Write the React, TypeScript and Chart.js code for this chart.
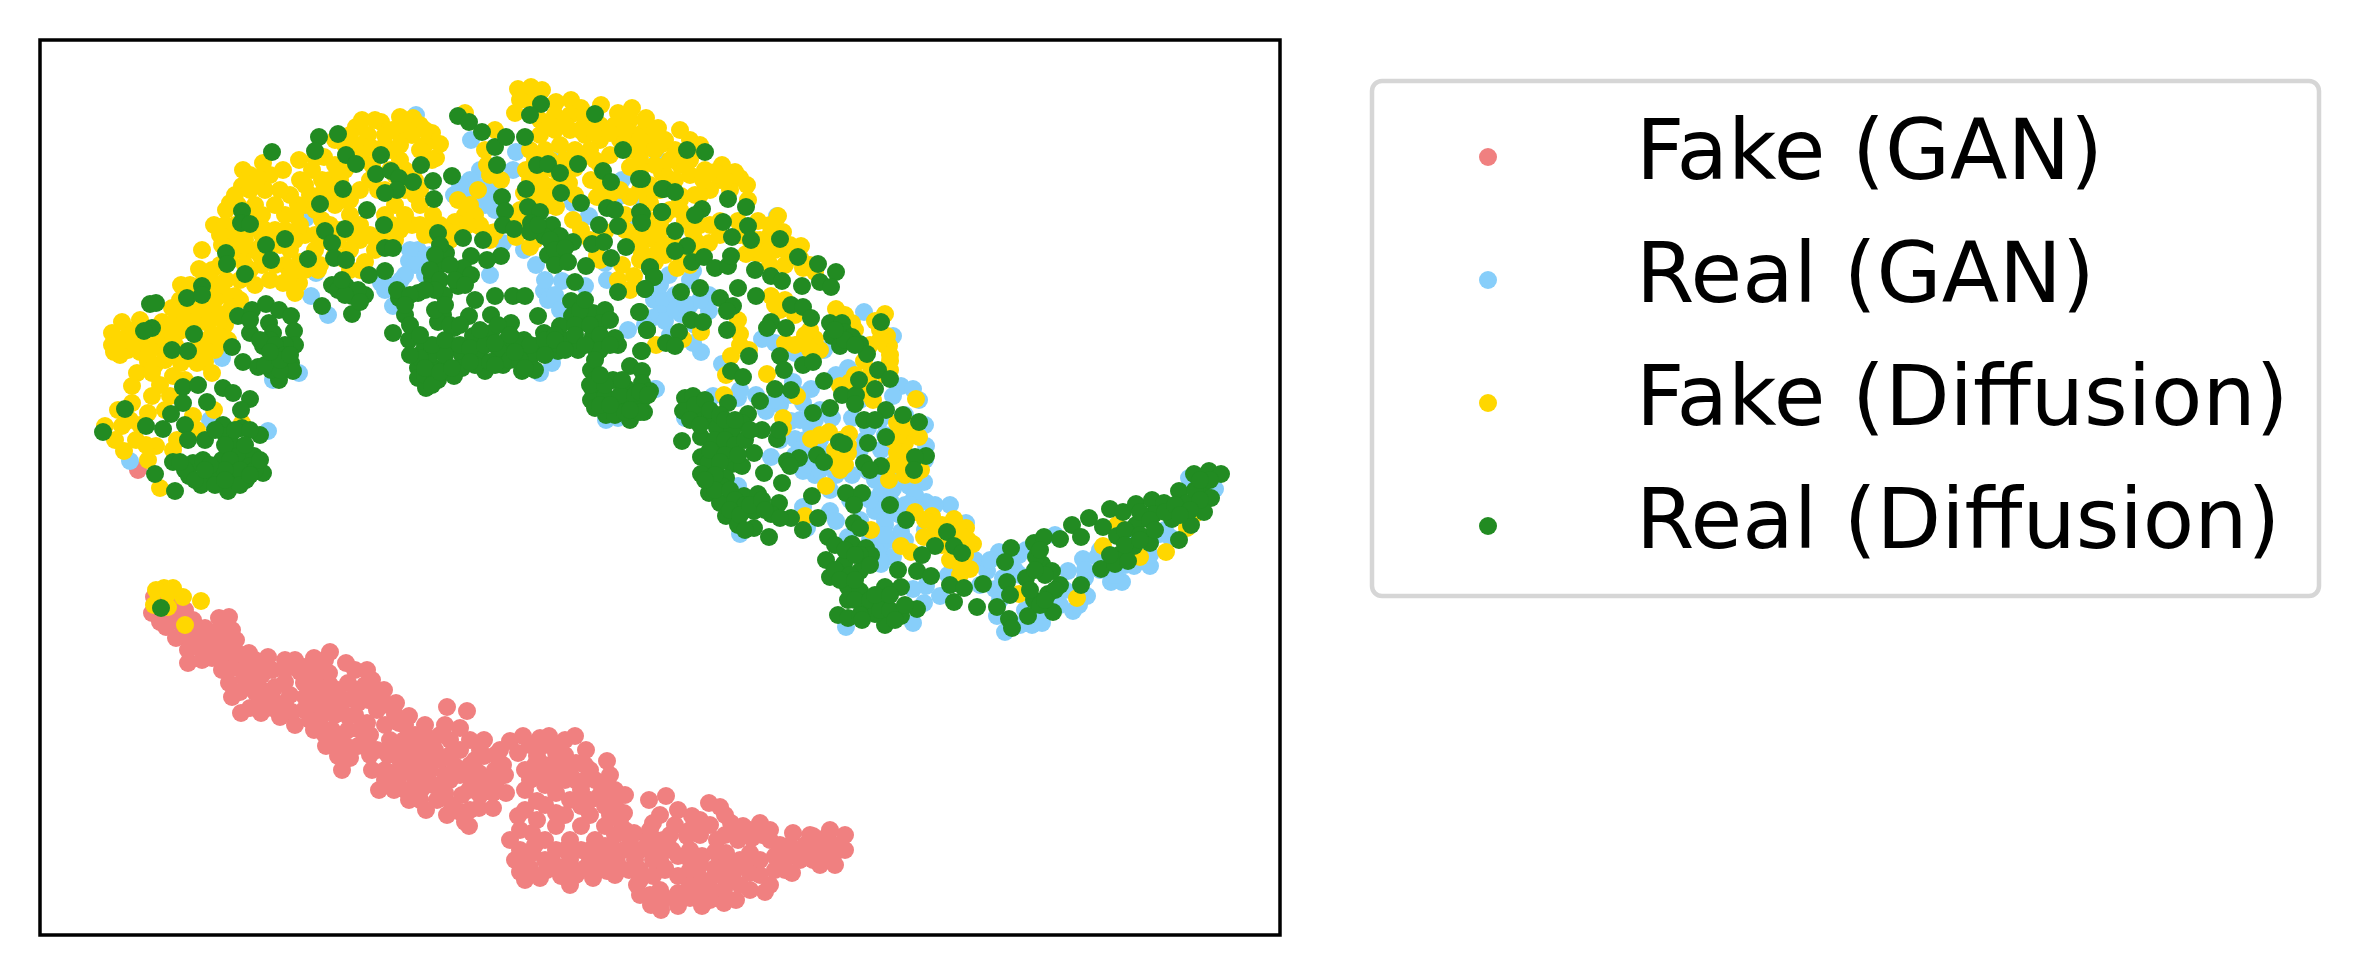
import React, { useEffect, useRef } from "react";
import { Chart, registerables } from "chart.js";

Chart.register(...registerables);

const seriesNames = ["Fake (GAN)", "Real (GAN)", "Fake (Diffusion)", "Real (Diffusion)"];
const seriesColors = ["#F08080", "#87CEFA", "#FFD700", "#228B22"];

const fakeGan: number[][] = [
[138,470],[154,597],[152,613],[166,627],[176,638],[188,663],[188,650],[193,620],[219,618],[229,617],[215,633],[232,630],[236,640],[202,650],[222,650],[202,660],[249,653],[268,657],[295,660],[314,658],[330,652],[346,663],[367,670],[372,680],[384,690],[396,703],[409,716],[399,723],[377,710],[358,703],[338,690],[348,683],[329,673],[304,667],[285,670],[265,667],[246,667],[222,670],[229,683],[251,683],[275,687],[304,683],[232,697],[241,713],[261,713],[280,717],[295,725],[261,700],[285,703],[304,710],[319,693],[324,713],[314,730],[326,746],[338,756],[342,770],[348,730],[358,746],[377,750],[348,716],[367,723],
[447,707],[467,711],[445,725],[460,728],[484,740],[404,740],[426,736],[411,753],[435,750],[460,750],[484,756],[503,765],[372,770],[379,790],[394,790],[409,800],[426,810],[447,815],[469,826],[392,773],[411,773],[430,770],[455,766],[479,773],[421,790],[445,793],[469,790],[493,793],[479,808],[493,808],[506,793],[388,755],[400,760],[440,735],[465,822],
[510,741],[523,736],[549,736],[575,736],[518,753],[537,756],[556,753],[586,750],[607,761],[576,763],[532,776],[556,770],[600,783],[615,790],[537,801],[556,793],[581,790],[624,813],[605,806],[581,806],[556,813],[537,820],[518,816],[510,840],[515,860],[532,833],[556,826],[581,826],[605,826],[532,853],[556,850],[581,850],[605,846],[547,870],[561,876],[576,875],[593,878],[607,871],[629,870],[624,850],[520,830],[545,840],[570,840],[595,840],[520,850],[570,860],[590,860],[615,835],
[649,800],[666,796],[678,810],[692,816],[709,803],[720,807],[653,823],[634,833],[731,823],[760,823],[743,826],[793,833],[663,840],[687,836],[717,840],[738,840],[770,840],[637,885],[651,905],[661,910],[678,906],[702,906],[724,903],[736,900],[750,890],[770,885],[792,873],[653,860],[678,856],[702,856],[726,853],[750,853],[775,856],[653,876],[678,876],[702,880],[726,880],[750,873],[775,870],[678,893],[702,893],[724,890],[640,850],[665,870],[690,870],[715,868],[785,860],
[813,836],[830,830],[845,835],[845,850],[813,860],[833,856],[799,850],[823,846],
[160,605],[160,622],[172,600],[172,615],[185,610],[183,632],[197,632],[197,645],[205,628],[210,642],[222,628],[222,640],[212,658],[235,655],[232,668],[242,655],[244,678],[240,692],[252,670],[255,692],[250,708],[262,675],[262,690],[272,670],[272,697],[272,708],[285,682],[290,695],[292,712],[300,672],[305,697],[315,670],[315,680],[318,705],[330,685],[330,700],[335,715],[332,730],[340,705],[340,740],[356,690],[355,715],[360,730],[345,745],[350,758],[365,685],[368,700],[370,735],[380,698],[388,705],[385,725],[390,740],[405,725],[415,735],
[385,770],[385,780],[398,780],[405,765],[415,785],[420,760],[430,755],[440,760],[433,785],[420,800],[437,800],[450,780],[452,805],[460,775],[462,795],[475,760],[450,740],[470,740],[480,750],[495,770],[497,780],[470,810],[460,812],[445,775],[432,745],[420,745],[490,780],[505,775],[483,785],
[530,745],[545,745],[560,745],[535,765],[545,765],[560,763],[525,790],[545,785],[565,780],[575,780],[590,770],[570,800],[590,800],[600,795],[615,805],[525,810],[545,805],[565,815],[590,815],[610,815],[625,830],[535,845],[545,860],[565,850],[590,850],[615,850],[525,865],[540,878],[555,865],[570,868],[585,868],[600,858],[617,862],[635,850],[640,870],[635,860],[615,875],
[648,840],[650,830],[660,815],[675,825],[690,830],[700,820],[710,825],[725,835],[672,850],[690,850],[715,852],[740,832],[752,838],[762,835],[780,845],[790,855],[640,895],[660,890],[665,898],[690,885],[690,898],[712,890],[715,875],[735,870],[740,885],[760,860],[760,875],[785,870],[800,860],[665,868],[665,850],[650,848],[640,880],[805,845],[820,858],[835,845],[810,850],
[310,690],[325,660],[355,670],[375,695],[395,715],[345,700],[320,720],[310,720],[335,745],[325,735],[365,745],[370,755],[400,750],[410,745],[425,725],[395,775],[405,790],[415,770],[440,790],[425,780],[450,755],[470,765],[470,778],[480,795],[500,750],[495,755],[540,738],[565,740],[565,755],[525,770],[545,775],[570,770],[585,765],[595,780],[610,775],[530,780],[555,783],[585,780],[625,795],[610,790],[630,840],[620,820],[610,860],[595,870],[570,885],[525,880],[520,872],[530,868],[655,840],[670,835],[700,835],[725,815],[750,830],[770,830],[780,860],[745,865],[765,892],[710,900],[650,895],[660,860],[690,860],[700,865],[725,865],[740,860],[810,835],[825,838],[790,845],[820,865],[805,855],[835,865],[285,660],[255,660],[220,660],[210,655],[230,645],[190,640],[180,622],[165,610]
];

const realGan: number[][] = [
[416,115],[471,140],[516,152],[513,170],[479,187],[483,197],[493,206],[454,195],[306,218],[316,273],[311,296],[328,315],[418,250],[409,261],[422,260],[401,280],[381,283],[393,306],[490,275],[536,265],[544,291],[548,300],[562,281],[585,286],[607,280],[605,263],[654,300],[664,316],[628,330],[552,363],[540,373],[655,389],[606,420],[618,418],[299,373],[273,380],[222,358],[268,431],[210,420],[130,461],[638,220],[618,197],[589,216],[573,203],[622,180],[658,160],[642,197],[560,157],[613,127],[503,243],[524,250],[471,190],
[664,300],[660,314],[681,314],[669,275],[693,271],[709,295],[709,311],[652,318],[665,321],[701,352],[693,343],[722,364],[762,339],[775,343],[777,216],[864,312],[893,336],[824,350],[795,353],[848,368],[836,375],[713,396],[738,398],[756,395],[656,389],[793,382],[811,389],[803,403],[901,386],[913,389],[919,400],[893,396],[766,411],[791,421],[795,439],[811,428],[832,418],[852,418],[868,428],[881,450],[926,446],[893,464],[868,471],[852,475],[836,475],[815,475],[803,471],[771,457],[924,482],[909,486],[893,489],[881,493],[875,511],[885,525],[901,532],[926,502],[950,505],[966,523],[913,500],[881,546],[893,557],[881,564],[848,537],[803,507],[830,511],[836,521],[807,528],[740,534],[685,418],[738,486],[975,560],[987,571],[999,552],[1003,578],[995,589],[940,596],[948,575],[926,586],[913,589],[924,603],[913,623],[846,627],[997,616],[1032,625],[1042,623],[1073,611],[1079,605],[1087,596],[1068,571],[1085,578],[1111,582],[1122,582],[1083,559],[1097,557],[1134,566],[1150,566],[1160,534],[1170,537],[1215,489],[1189,478],[1019,555],[1026,550],
[800,420],[780,440],[820,450],[860,450],[810,450],[830,490],[850,500],[860,520],[875,480],[890,510],[780,405],[820,410],[860,400],[905,415],[925,425],[925,460],[905,505],[1055,535],[1100,550],[1130,545],[1025,610],[1020,575],[1040,620],[1065,590],
[675,295],[690,280],[675,310],[690,305],[700,300],[650,290],[660,285],[685,305],[645,325],[670,335],[695,325],[740,390],[775,400],[790,395],[800,395],[805,420],[815,420],[820,440],[805,440],[795,455],[810,465],[820,470],[800,450],[865,440],[880,420],[885,435],[895,475],[905,480],[915,495],[890,500],[880,505],[870,500],[890,540],[885,520],[900,515],[910,505],[935,505],[950,525],[925,530],[905,540],[885,535],[880,560],[870,540],[990,560],[1015,570],[980,585],[1000,600],[1020,625],[1005,632],[1060,605],[1085,570],[1100,570],[1115,575],[1125,565],[1130,540],[1150,555],[1165,530],
[410,250],[430,255],[415,265],[405,275],[425,275],[395,285],[385,290],[480,170],[490,190],[495,210],[485,205],[470,180],[460,185],[470,200],[545,280],[555,295],[560,310]
];

const fakeDiffusion: number[][] = [
[112,333],[112,345],[114,352],[122,322],[128,336],[128,350],[140,320],[140,338],[140,352],[148,362],[155,345],[162,322],[165,338],[172,308],[175,322],[182,312],[190,306],[181,285],[199,269],[202,250],[192,300],[205,300],[215,290],[226,280],[235,296],[215,312],[205,322],[212,335],[225,325],[195,318],[228,340],[215,350],[205,362],[188,330],[165,355],[155,365],[175,345],
[118,410],[105,426],[124,451],[148,460],[160,488],[137,373],[132,386],[152,373],[173,376],[152,396],[170,396],[132,403],[148,413],[122,426],[136,440],[156,446],[173,450],[146,445],[212,373],[197,363],[181,363],[214,410],[193,416],[197,430],[177,440],[242,423],[165,360],[130,420],[140,425],[115,440],[160,385],[185,380],[165,410],
[214,225],[226,210],[230,203],[242,186],[243,170],[230,240],[222,245],[240,235],[250,250],[255,205],[262,215],[265,190],[263,163],[270,175],[283,170],[275,230],[285,215],[290,195],[299,160],[300,180],[312,170],[324,157],[322,180],[335,140],[335,165],[345,145],[356,127],[356,150],[362,120],[368,135],[381,122],[372,165],[378,190],[350,200],[335,205],[310,195],[322,220],[400,117],[413,118],[432,133],[440,144],[436,158],[465,113],
[245,265],[255,285],[262,265],[270,280],[285,265],[283,283],[295,293],[299,283],[305,235],[315,250],[318,270],[340,230],[350,215],[360,240],[375,250],[365,262],[350,270],[320,265],[335,255],[400,230],[412,225],[420,205],[415,180],[400,135],[412,135],[425,145],[432,160],[420,150],[400,160],[390,150],[375,175],[395,205],[385,215],[405,215],[385,235],[355,240],[345,200],[360,190],[330,225],[300,225],[240,300],[245,215],[235,225],[250,270],[230,260],[362,160],[385,135],[395,175],[405,190],
[458,200],[465,215],[462,232],[470,205],[478,190],[490,175],[475,215],[480,225],[490,240],[495,232],[455,222],[440,225],[433,215],[432,235],[450,240],[495,130],[485,150],[487,165],[501,180],
[518,89],[531,87],[542,90],[515,113],[536,103],[556,102],[571,100],[581,108],[601,105],[618,113],[632,108],[646,118],[658,128],[664,140],[540,120],[555,115],[570,115],[585,120],[600,125],[615,125],[630,120],[645,130],[635,135],[620,140],[600,140],[585,135],[570,130],[555,130],[540,135],[530,150],[545,150],[560,145],[575,150],[590,150],[526,170],[524,193],[536,197],[548,193],[569,183],[556,207],[516,237],[530,247],[479,226],[491,233],[591,180],[597,197],[630,197],[650,203],[630,167],[662,173],[573,220],[581,230],[634,233],[650,236],[662,243],[597,256],[618,280],[634,276],[642,253],[540,175],[555,170],[525,225],[600,165],[640,155],[575,168],
[645,120],[655,130],[650,145],[665,140],[675,150],[690,140],[700,145],[680,165],[665,175],[690,175],[703,180],[722,165],[735,172],[720,180],[740,178],[747,185],[730,190],[710,190],[695,195],[680,200],[655,165],[640,160],[648,200],[652,221],[681,196],[685,221],[693,232],[709,243],[720,221],[738,221],[758,221],[778,216],[783,232],[801,246],[803,268],[758,254],[746,254],[748,200],[775,250],[793,257],[648,239],[656,254],[677,268],[665,215],[660,230],[675,245],[695,250],[770,235],[785,265],[815,272],[770,265],
[771,296],[781,303],[836,309],[852,323],[885,314],[875,321],[887,336],[889,346],[890,361],[864,361],[801,343],[815,339],[785,343],[738,320],[740,334],[701,332],[656,345],[683,339],[731,356],[749,350],[767,374],[726,375],[797,396],[724,395],[840,386],[850,382],[873,400],[864,386],[916,399],[783,418],[783,428],[811,439],[829,432],[849,434],[848,453],[836,464],[840,457],[897,423],[905,432],[919,437],[897,453],[905,443],[889,480],[905,475],[921,470],[826,486],[871,530],[915,512],[932,516],[954,519],[942,525],[966,528],[924,537],[973,544],[901,546],[911,552],[950,560],[970,569],[960,575],[1077,598],[1166,552],[1019,594],[1117,525],[1103,546],[1140,557],[1195,514],[1187,528],[805,516],[810,330],[820,350],[870,375],[895,440],[908,458],[942,545],
[164,588],[156,590],[173,588],[183,597],[201,601],[154,605],[168,607],[185,625],[168,593],
[120,340],[134,330],[134,345],[120,355],[147,330],[150,350],[158,332],[170,330],[168,350],[178,332],[185,320],[200,310],[210,320],[220,315],[218,335],[200,340],[195,350],[205,350],[180,300],[190,285],[200,285],[212,270],[220,265],[210,280],[225,295],[215,300],[230,310],[240,280],
[225,225],[238,205],[235,195],[250,190],[250,175],[258,178],[220,235],[240,250],[233,250],[245,240],[262,235],[270,245],[280,245],[290,250],[295,240],[268,260],[290,275],[300,262],[305,270],[275,265],[260,255],[262,245],[255,228],[265,230],[285,230],[295,215],[298,205],[280,190],[275,205],[305,205],[315,210],[305,185],[320,195],[330,180],[330,195],[315,158],[340,180],[345,170],[350,135],[360,145],[372,148],[385,145],[392,130],[375,120],[370,180],[385,190],[390,170],[405,170],[415,195],[420,190],[408,125],[420,125],[425,130],[400,145],
[325,240],[338,240],[350,250],[345,260],[360,225],[370,235],[395,240],[375,238],[392,225],[360,270],[315,235],[425,235],[435,225],[420,225],[445,230],[468,225],
[528,100],[520,100],[535,110],[550,125],[565,125],[580,130],[595,130],[610,133],[625,130],[640,140],[655,150],[535,160],[550,160],[565,160],[580,160],[595,160],[610,155],[628,150],[545,185],[560,180],[575,195],[550,205],[540,185],[530,180],[520,210],[515,222],[535,240],[600,185],[610,195],[620,190],[640,190],[650,185],[640,170],[655,190],[625,215],[625,230],[640,240],[650,225],[660,225],[605,232],[590,240],[600,260],[622,265],[630,290],[640,260],[655,262],
[680,130],[695,150],[660,145],[670,160],[690,160],[705,170],[715,172],[725,180],[700,195],[675,180],[660,190],[670,210],[680,210],[700,225],[695,240],[710,225],[720,235],[740,235],[750,240],[760,240],[770,225],[790,245],[785,250],[800,258],[810,265],[765,250],[755,240],[680,255],[665,255],[690,265],
[785,300],[795,315],[780,310],[845,315],[855,330],[880,330],[885,345],[870,345],[890,355],[805,335],[795,345],[810,350],[775,305],[740,345],[880,340],[860,385],[855,375],[885,375],[890,370],[870,395],[900,432],[910,425],[893,440],[905,455],[893,465],[840,440],[835,450],[820,435],[848,445],[840,470],[845,465],[905,465],[915,475],
[925,520],[938,530],[950,530],[960,535],[955,545],[968,540],[935,525],[960,565],[965,555]
];

const realDiffusion: number[][] = [
[272,152],[319,137],[315,151],[338,134],[346,155],[356,164],[381,155],[376,174],[391,171],[399,178],[413,182],[397,190],[385,193],[421,165],[433,181],[434,199],[452,176],[458,116],[469,122],[482,132],[495,147],[506,137],[525,137],[497,165],[541,104],[530,115],[595,114],[623,150],[578,164],[537,165],[548,164],[560,173],[526,189],[561,193],[502,197],[505,211],[528,207],[540,212],[503,225],[514,229],[531,223],[552,225],[544,236],[560,236],[548,255],[562,261],[573,242],[581,203],[603,171],[611,182],[639,179],[662,189],[607,208],[599,225],[618,226],[615,210],[640,212],[641,221],[662,212],[592,244],[604,242],[626,247],[611,258],[586,266],[650,267],[654,277],[645,289],[618,292],[639,312],[647,330],[575,282],[571,301],[572,316],[666,343],[641,351],[630,366],[642,371],[618,345],[615,338],
[593,313],[605,310],[581,323],[560,326],[538,316],[544,333],[569,340],[593,336],[601,323],[558,351],[536,346],[597,353],[591,370],[595,380],
[393,333],[409,340],[405,315],[399,298],[397,290],[418,293],[432,278],[438,266],[446,253],[438,233],[463,238],[483,240],[501,256],[487,260],[471,256],[463,268],[471,275],[458,286],[444,295],[475,300],[495,296],[513,296],[525,296],[491,315],[443,315],[438,322],[454,328],[469,316],[511,323],[473,336],[491,333],[507,340],[524,340],[422,353],[438,350],[454,346],[462,355],[479,355],[499,351],[516,350],[532,355],[418,368],[432,366],[446,366],[462,368],[485,371],[503,365],[522,371],[535,370],[418,378],[426,388],[438,380],[454,376],[550,345],[578,350],
[593,390],[591,400],[595,408],[606,415],[613,380],[626,388],[642,383],[650,391],[642,400],[644,412],[630,420],[618,406],[605,396],[630,403],
[242,211],[241,223],[250,224],[285,239],[266,245],[271,260],[226,253],[227,264],[245,274],[320,204],[343,189],[367,210],[384,225],[345,229],[325,231],[332,243],[308,259],[334,258],[346,260],[385,248],[393,248],[369,275],[385,271],[332,285],[346,286],[352,296],[365,295],[352,314],[322,306],[202,286],[187,298],[202,295],[150,304],[156,303],[152,328],[144,331],[194,334],[172,350],[188,351],[232,347],[238,316],[252,310],[266,304],[279,310],[291,316],[269,323],[273,333],[250,333],[294,331],[295,345],[263,346],[243,362],[258,367],[275,358],[291,363],[293,371],[279,380],[271,370],
[183,387],[198,385],[183,403],[207,402],[223,388],[233,393],[250,399],[241,410],[171,414],[185,425],[163,429],[146,426],[125,409],[103,432],[188,440],[155,474],[175,491],[223,425],[205,440],[226,436],[242,428],[260,435],[234,446],[222,460],[238,456],[254,456],[173,462],[193,463],[203,460],[189,476],[201,485],[214,475],[230,478],[246,480],[263,473],[228,491],[250,466],
[687,150],[705,152],[642,179],[664,189],[675,192],[728,199],[746,207],[702,209],[695,215],[662,212],[642,214],[642,223],[723,222],[748,226],[751,240],[732,237],[780,239],[798,257],[818,264],[675,231],[687,246],[675,251],[692,262],[704,257],[715,268],[728,266],[731,256],[650,268],[654,277],[645,289],[681,292],[700,288],[755,270],[771,276],[782,281],[836,272],[820,282],[831,287],[802,286],[738,288],[756,296],[720,298],[733,306],[727,311],[791,305],[803,307],[811,318],[691,320],[703,322],[640,312],[727,330],[647,330],[679,332],[675,346],[642,351],[771,322],[767,328],[786,328],
[830,323],[842,323],[832,336],[844,332],[840,346],[860,344],[867,354],[881,322],[852,337],[780,356],[784,370],[749,356],[731,371],[743,377],[803,365],[813,362],[824,381],[775,389],[791,390],[842,395],[856,395],[855,404],[859,380],[878,370],[875,389],[890,379],[830,408],[813,413],[760,401],[903,415],[919,422],[886,410],[864,420],[875,420],
[728,403],[685,398],[693,396],[683,411],[699,414],[709,420],[748,414],[742,423],[762,430],[777,439],[779,430],[682,441],[701,437],[717,428],[732,432],[728,446],[754,453],[701,457],[717,453],[732,464],[742,466],[709,462],[701,474],[726,478],[764,473],[782,483],[799,458],[787,461],[790,466],[817,455],[824,462],[839,442],[844,444],[868,443],[886,437],[864,463],[881,466],[870,470],[926,456],[915,457],[914,470],
[709,493],[722,486],[720,503],[726,516],[744,496],[758,494],[779,503],[738,525],[754,528],[769,537],[754,511],[771,514],[791,518],[803,530],[818,518],[812,496],[846,493],[862,493],[854,505],[854,523],[860,528],[890,505],[906,520],[947,532],[954,546],[962,553],[935,546],[922,555],[917,571],[931,576],[898,570],
[828,537],[852,544],[866,548],[871,555],[826,560],[844,564],[860,571],[830,577],[848,587],[860,591],[885,587],[901,587],[848,600],[864,607],[885,600],[838,615],[848,618],[885,625],[901,616],[917,609],[875,614],
[950,585],[964,588],[983,584],[954,602],[977,607],[997,607],[1009,619],[1012,628],[1007,582],[1010,595],[1011,548],[1005,562],[1026,578],[1034,600],[1053,612],[1028,616],[1060,585],[1048,594],[1042,564],[1052,571],[1034,543],[1044,537],[1060,539],[1036,557],[1081,585],
[1072,525],[1089,518],[1081,537],[1103,527],[1110,509],[1123,512],[1136,504],[1152,500],[1164,503],[1154,514],[1136,525],[1117,536],[1150,543],[1134,546],[1119,555],[1101,569],[1115,564],[1128,561],[1179,491],[1194,474],[1209,471],[1221,474],[1201,489],[1211,498],[1204,512],[1187,503],[1191,525],[1172,519],[1179,540],
[161,608],
[425,345],[430,355],[445,355],[425,375],[432,385],[420,358],[432,345],[445,340],[460,345],[470,348],[485,345],[495,343],[515,340],[530,345],[545,340],[555,335],[475,365],[490,362],[510,360],[520,360],[525,368],[410,355],[425,368],[440,372],[452,368],[470,362],[495,365],[515,352],
[440,245],[435,255],[430,270],[440,280],[450,265],[455,280],[465,285],[435,290],[425,290],[410,295],[405,305],[410,325],[420,335],[435,310],[445,305],[450,325],[460,325],[480,330],[498,325],[510,335],
[550,240],[555,250],[565,248],[555,265],[568,262],[530,232],[538,225],[580,310],[585,300],[575,325],[590,325],[600,335],[610,320],[575,335],[555,340],[565,350],[545,355],[600,350],[610,345],[585,345],[595,360],[590,385],[605,385],[600,375],[620,395],[635,395],[615,415],[640,392],[648,395],[625,412],[600,405],[610,405],[636,410],[622,380],[640,412],[630,410],
[270,340],[285,345],[260,340],[250,320],[275,345],[280,370],[285,355],[265,365],[280,360],[290,355],[270,352],
[215,430],[225,445],[235,430],[250,430],[230,460],[245,445],[240,470],[225,470],[210,465],[185,470],[195,480],[215,485],[240,485],[255,470],[225,480],[205,470],[180,462],[260,460],[250,475],
[338,290],[358,290],[345,295],[360,302],[342,280],
[695,405],[705,400],[690,420],[700,425],[710,410],[720,415],[725,420],[735,420],[715,440],[725,440],[735,445],[710,450],[725,455],[720,462],[738,455],[745,440],[750,430],[715,475],[715,490],[705,480],[730,490],[735,500],[745,505],[730,510],[740,515],[750,505],[762,500],[765,510],[780,518],[745,530],
[835,545],[845,550],[860,555],[835,570],[850,575],[855,555],[840,580],[870,565],[855,600],[870,600],[880,610],[875,595],[860,615],[890,610],[905,605],[890,595],[855,580],[862,620],[895,620],
[1040,550],[1045,575],[1030,590],[1040,605],[1055,590],[1035,570],[1045,600],
[1125,530],[1140,512],[1150,520],[1165,512],[1175,505],[1140,535],[1125,545],[1110,555],[1140,540],[1155,530],[1195,490],[1200,500],[1210,480],[1190,510],[1180,515],[1200,480],
[845,340],[835,330],[855,345]
];

const seriesValues = [fakeGan, realGan, fakeDiffusion, realDiffusion];

function legendDot(color: string) {
  const c = document.createElement("canvas");
  c.width = 20;
  c.height = 20;
  const g = c.getContext("2d")!;
  g.fillStyle = color;
  g.beginPath();
  g.arc(10, 10, 9, 0, Math.PI * 2);
  g.fill();
  return c;
}

export default function App() {
  const ref = useRef<HTMLCanvasElement>(null);
  useEffect(() => {
    document.body.style.margin = "0";
    const frame = {
      id: "frame",
      afterLayout(chart: any) {
        chart.legend.left = 1343;
        chart.legend.top = 76;
        chart.legend.right = 2360;
        chart.legend.bottom = 975;
      },
      afterDatasetsDraw(chart: any) {
        const { left, top, width, height } = chart.chartArea;
        const g = chart.ctx;
        g.save();
        g.strokeStyle = "#000";
        g.lineWidth = 3.5;
        g.strokeRect(left, top, width, height);
        g.beginPath();
        g.strokeStyle = "#d6d6d6";
        g.lineWidth = 4.5;
        g.roundRect(1372, 81, 947, 515, 10);
        g.stroke();
        g.restore();
      },
    };
    const chart = new Chart(ref.current!, {
      type: "scatter",
      data: {
        datasets: seriesNames.map((label, i) => ({
          label,
          data: seriesValues[i].map(([x, y]) => ({ x, y })),
          backgroundColor: seriesColors[i],
          pointRadius: 9,
          pointBorderWidth: 0,
          pointHoverRadius: 9,
          order: 3 - i,
        })),
      },
      options: {
        animation: false,
        responsive: false,
        events: [],
        layout: { padding: { left: 40, top: 40, bottom: 40, right: 180 } },
        scales: {
          x: { type: "linear", display: false, min: 40, max: 1280 },
          y: { type: "linear", display: false, min: 40, max: 935, reverse: true },
        },
        plugins: {
          tooltip: { enabled: false },
          legend: {
            display: true,
            position: "right",
            align: "start",
            maxWidth: 900,
            labels: {
              usePointStyle: true,
              pointStyleWidth: 212,
              boxHeight: 18,
              padding: 39,
              color: "#000",
              font: { family: "'DejaVu Sans'", size: 84 },
              generateLabels: () =>
                seriesNames.map((text, i) => ({
                  text,
                  datasetIndex: i,
                  fillStyle: seriesColors[i],
                  strokeStyle: seriesColors[i],
                  lineWidth: 0,
                  hidden: false,
                  pointStyle: legendDot(seriesColors[i]),
                })),
            },
          },
        },
      },
      plugins: [frame],
    } as any);
    return () => chart.destroy();
  }, []);
  return <canvas ref={ref} width={2360} height={975} style={{ display: "block" }} />;
}
